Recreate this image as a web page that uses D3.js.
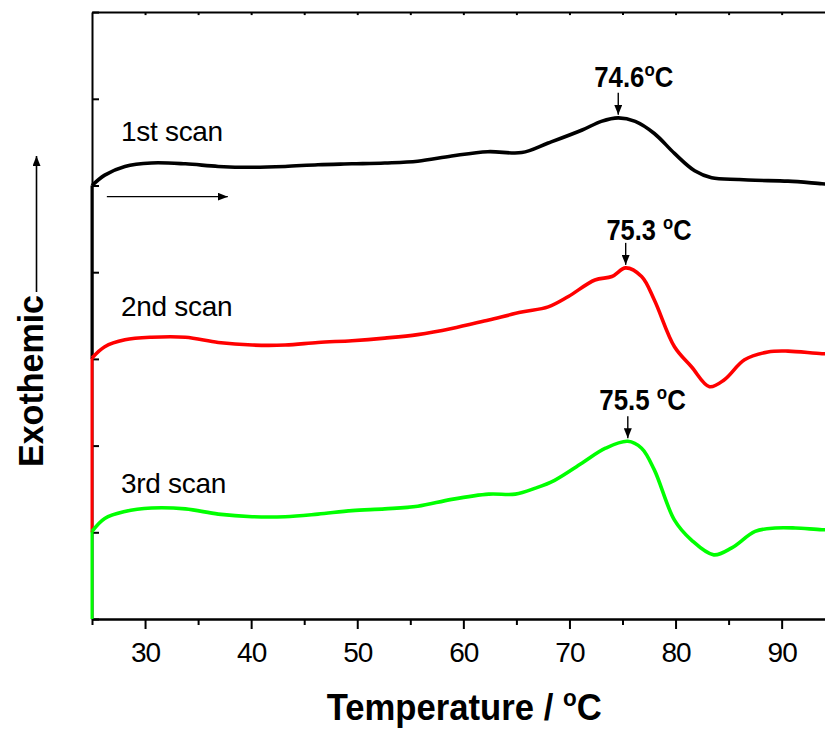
<!DOCTYPE html>
<html>
<head>
<meta charset="utf-8">
<script src="https://cdn.jsdelivr.net/npm/d3@7"></script>
<style>
  body { margin: 0; background: #fff; }
  svg { display: block; font-family: "Liberation Sans", Arial, sans-serif; }
  .axis path, .axis line { stroke: #000; stroke-width: 2; }
  .axis text { font-size: 28px; fill: #000; letter-spacing: -1px; }
</style>
</head>
<body>
<div id="chart"></div>
<script>
// temperature (°C) and signal (offset units)
var temps1 = [25.0, 26.2, 28.1, 30.6, 33.8, 36.9, 40.1, 43.2, 46.3, 49.5, 52.6, 55.7, 58.9, 62.3, 65.5, 68.0, 71.2, 73.0, 74.6, 76.2, 78.0, 79.9, 81.8, 83.4, 85.9, 87.5, 90.6, 93.8, 95.0];
var scan1 = [5.00, 5.12, 5.22, 5.26, 5.25, 5.22, 5.21, 5.22, 5.24, 5.25, 5.26, 5.28, 5.34, 5.39, 5.38, 5.49, 5.64, 5.74, 5.78, 5.74, 5.60, 5.37, 5.17, 5.09, 5.07, 5.06, 5.05, 5.02, 5.01];

var temps2 = [25.0, 26.2, 28.1, 30.6, 33.8, 36.9, 40.1, 43.2, 46.3, 49.5, 52.6, 55.7, 58.9, 62.4, 65.5, 68.0, 69.9, 72.4, 74.0, 75.3, 76.8, 78.0, 79.9, 81.5, 83.2, 84.6, 86.5, 88.7, 90.6, 93.8, 95.0];
var scan2 = [3.01, 3.14, 3.22, 3.25, 3.25, 3.19, 3.16, 3.16, 3.19, 3.21, 3.24, 3.28, 3.35, 3.45, 3.54, 3.60, 3.72, 3.91, 3.95, 4.05, 3.95, 3.68, 3.14, 2.91, 2.68, 2.76, 2.99, 3.08, 3.09, 3.06, 3.06];

var temps3 = [25.0, 26.2, 28.1, 30.6, 33.8, 36.9, 40.1, 43.2, 46.3, 49.5, 52.6, 55.7, 58.9, 62.4, 64.9, 66.8, 68.6, 71.2, 73.4, 75.5, 76.8, 78.0, 79.9, 81.5, 83.6, 85.3, 87.5, 89.4, 91.3, 93.8, 95.0];
var scan3 = [1.01, 1.16, 1.24, 1.28, 1.27, 1.21, 1.18, 1.18, 1.21, 1.25, 1.27, 1.30, 1.38, 1.44, 1.44, 1.51, 1.60, 1.80, 1.97, 2.05, 1.97, 1.72, 1.14, 0.91, 0.74, 0.82, 1.01, 1.05, 1.05, 1.03, 1.03];

// each trace begins with a vertical jump at 25 °C from this level
var scanStarts = [3, 1, 0];
var scanNames = ["1st scan", "2nd scan", "3rd scan"];
var scanColors = ["#000000", "#ff0000", "#00ff00"];
var peakTemps = [74.6, 75.3, 75.5];
var peakLabels = ["74.6", "75.3 ", "75.5 "];

var xMajor = [30, 40, 50, 60, 70, 80, 90];
var xMinor = [25, 35, 45, 55, 65, 75, 85, 95];
var xTop = [30, 35, 40, 45, 50, 55, 60, 65, 70, 75, 80, 85, 90, 95];
var yTicks = [0, 1, 2, 3, 4, 5, 6, 7];

var width = 825, height = 731;
var svg = d3.select("#chart").append("svg")
    .attr("width", width)
    .attr("height", height);

var x = d3.scaleLinear().domain([25, 95]).range([92, 834.7]);
var y = d3.scaleLinear().domain([0, 7]).range([619, 12.1]);

var defs = svg.append("defs");
defs.append("marker")
    .attr("id", "head")
    .attr("viewBox", "0 0 10 8")
    .attr("refX", 10).attr("refY", 4)
    .attr("markerWidth", 10).attr("markerHeight", 8)
    .attr("markerUnits", "userSpaceOnUse")
    .attr("orient", "auto")
    .append("path")
    .attr("d", "M0,0 L10,4 L0,8 Z")
    .attr("fill", "#000");

// axes
svg.append("g").attr("class", "axis")
    .attr("transform", "translate(0," + y(0) + ")")
    .call(d3.axisBottom(x).tickValues(xMajor).tickSize(10).tickSizeOuter(0).tickPadding(6))
    .selectAll("text").attr("dy", "0.95em");

svg.append("g").attr("class", "axis")
    .attr("transform", "translate(0," + y(0) + ")")
    .call(d3.axisBottom(x).tickValues(xMinor).tickSize(6).tickSizeOuter(0).tickFormat(""));

svg.append("g").attr("class", "axis")
    .attr("transform", "translate(0," + y(7) + ")")
    .call(d3.axisBottom(x).tickValues(xTop).tickSize(3).tickSizeOuter(0).tickFormat(""));

svg.append("g").attr("class", "axis")
    .attr("transform", "translate(" + x(25) + ",0)")
    .call(d3.axisRight(y).tickValues(yTicks).tickSize(7).tickSizeOuter(0).tickFormat(""));

// curves
var line = d3.line()
    .x(d => x(d[0]))
    .y(d => y(d[1]))
    .curve(d3.curveCatmullRom.alpha(0.5));

var series = [
    d3.zip(temps1, scan1),
    d3.zip(temps2, scan2),
    d3.zip(temps3, scan3)
];

series.forEach(function (pts, i) {
    svg.append("line")
        .attr("x1", x(25)).attr("x2", x(25))
        .attr("y1", y(scanStarts[i])).attr("y2", y(pts[0][1]))
        .attr("stroke", scanColors[i])
        .attr("stroke-width", 3);
    svg.append("path")
        .datum(pts)
        .attr("d", line)
        .attr("fill", "none")
        .attr("stroke", scanColors[i])
        .attr("stroke-width", 3.6)
        .attr("stroke-linejoin", "round");
});

// scan labels
var labelY = [141, 315.7, 492.7];
scanNames.forEach(function (name, i) {
    svg.append("text")
        .attr("x", 121)
        .attr("y", labelY[i])
        .attr("font-size", 28)
        .attr("letter-spacing", "-0.3")
        .text(name);
});

// peak annotations
var peakTextX = [594.3, 606.5, 599.3];
var peakTextY = [87.3, 240, 410];
var peakTextW = [79, 85, 86.5];
peakTemps.forEach(function (t, i) {
    var pk = series[i].find(d => d[0] === t);
    var tip = y(pk[1]) - 3;
    svg.append("line")
        .attr("x1", x(t)).attr("x2", x(t))
        .attr("y1", tip - 22).attr("y2", tip)
        .attr("stroke", "#000")
        .attr("stroke-width", 1.4)
        .attr("marker-end", "url(#head)");
    var txt = svg.append("text")
        .attr("x", peakTextX[i])
        .attr("y", peakTextY[i])
        .attr("font-size", 29)
        .attr("font-weight", "bold")
        .attr("textLength", peakTextW[i])
        .attr("lengthAdjust", "spacingAndGlyphs");
    txt.append("tspan").text(peakLabels[i]);
    txt.append("tspan").attr("font-size", 19).attr("dy", -11).text("o");
    txt.append("tspan").attr("dy", 11).text("C");
});

// heating direction arrow
svg.append("line")
    .attr("x1", x(26.4)).attr("x2", x(37.8))
    .attr("y1", 196.7).attr("y2", 196.7)
    .attr("stroke", "#000")
    .attr("stroke-width", 1.3)
    .attr("marker-end", "url(#head)");

// axis titles
var xt = svg.append("text")
    .attr("x", 326.7)
    .attr("y", 720)
    .attr("font-size", 37)
    .attr("font-weight", "bold")
    .attr("textLength", 275)
    .attr("lengthAdjust", "spacingAndGlyphs");
xt.append("tspan").text("Temperature / ");
xt.append("tspan").attr("font-size", 24).attr("dy", -14).text("o");
xt.append("tspan").attr("dy", 14).text("C");

svg.append("text")
    .attr("transform", "translate(43,467) rotate(-90)")
    .attr("font-size", 35)
    .attr("font-weight", "bold")
    .attr("textLength", 172)
    .attr("lengthAdjust", "spacingAndGlyphs")
    .text("Exothemic");

svg.append("line")
    .attr("x1", 36.5).attr("x2", 36.5)
    .attr("y1", 292).attr("y2", 156)
    .attr("stroke", "#000")
    .attr("stroke-width", 1.6)
    .attr("marker-end", "url(#head)");
</script>
</body>
</html>
